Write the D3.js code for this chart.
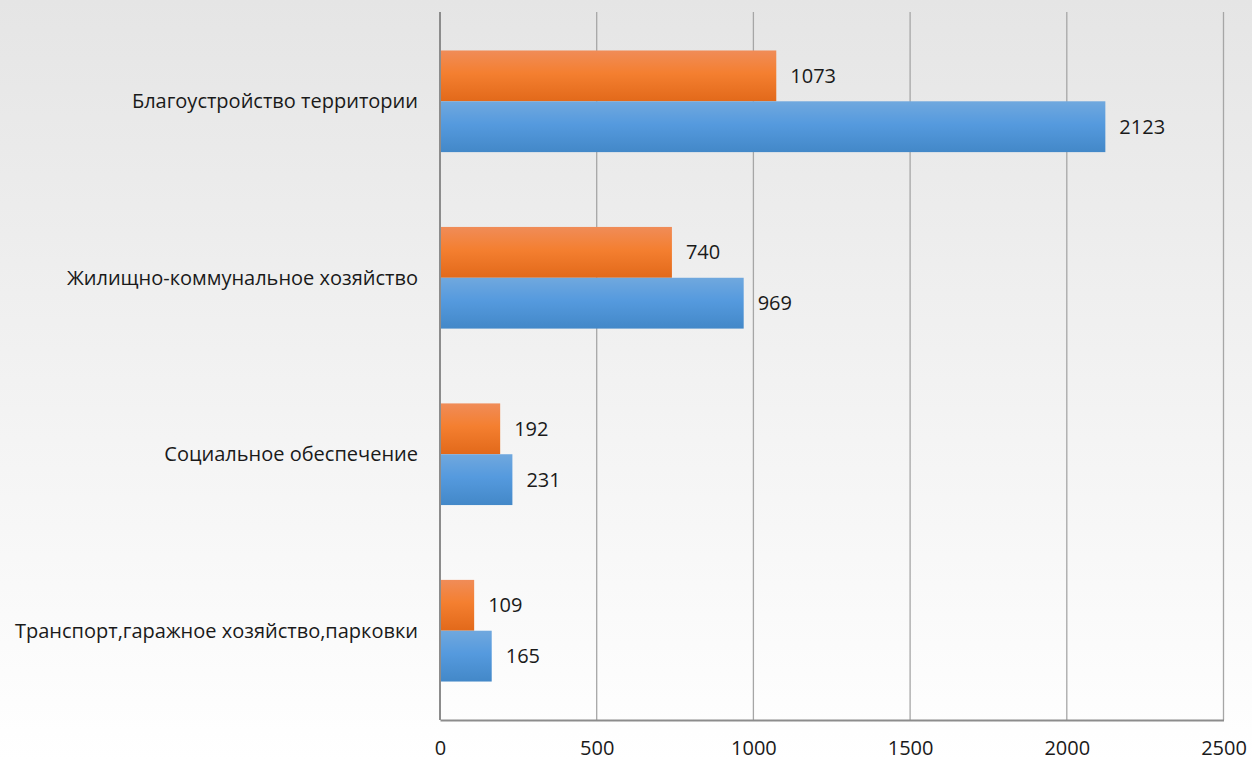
<!DOCTYPE html>
<html>
<head>
<meta charset="utf-8">
<script src="https://cdn.jsdelivr.net/npm/d3@7"></script>
<style>
  body { margin: 0; }
  svg { display: block; font-family: "Open Sans", "Noto Sans", sans-serif; }
</style>
</head>
<body>
<div id="canvas"></div>
<script>
const categories = [
  "Благоустройство территории",
  "Жилищно-коммунальное хозяйство",
  "Социальное обеспечение",
  "Транспорт,гаражное хозяйство,парковки"
];
const orangeValues = [1073, 740, 192, 109];
const blueValues = [2123, 969, 231, 165];
const xTicks = [0, 500, 1000, 1500, 2000, 2500];

const width = 1252, height = 761;
const margin = { top: 12, left: 440, bottom: 41, right: 28 };
const iwidth = width - margin.left - margin.right;
const iheight = height - margin.top - margin.bottom;

const svg = d3.select("#canvas").append("svg")
  .attr("width", width)
  .attr("height", height);

const defs = svg.append("defs");
const bg = defs.append("linearGradient").attr("id", "bg").attr("x1", 0).attr("x2", 0).attr("y1", 0).attr("y2", 1);
bg.append("stop").attr("offset", "0%").attr("stop-color", "#e5e5e5");
bg.append("stop").attr("offset", "100%").attr("stop-color", "#ffffff");

const og = defs.append("linearGradient").attr("id", "og").attr("x1", 0).attr("x2", 0).attr("y1", 0).attr("y2", 1);
og.append("stop").attr("offset", "0%").attr("stop-color", "#f08c58");
og.append("stop").attr("offset", "45%").attr("stop-color", "#f47f30");
og.append("stop").attr("offset", "100%").attr("stop-color", "#e2691a");

const bgr = defs.append("linearGradient").attr("id", "bgr").attr("x1", 0).attr("x2", 0).attr("y1", 0).attr("y2", 1);
bgr.append("stop").attr("offset", "0%").attr("stop-color", "#70a8de");
bgr.append("stop").attr("offset", "45%").attr("stop-color", "#559ade");
bgr.append("stop").attr("offset", "100%").attr("stop-color", "#4388c8");

svg.append("rect").attr("width", width).attr("height", height).attr("fill", "url(#bg)");

const g = svg.append("g").attr("transform", `translate(${margin.left},${margin.top})`);

const x = d3.scaleLinear().domain([0, 2500]).range([0, iwidth - 0.5]);

const y = d3.scaleBand()
  .domain(categories)
  .range([0, iheight])
  .paddingInner(0.424)
  .paddingOuter(0.218);

const sub = d3.scaleBand()
  .domain(["orange", "blue"])
  .range([0, y.bandwidth()]);

// grid
g.selectAll("line.grid").data(xTicks).enter().append("line")
  .attr("class", "grid")
  .attr("x1", d => x(d)).attr("x2", d => x(d))
  .attr("y1", 0).attr("y2", iheight)
  .attr("stroke", "#a6a6a6")
  .attr("stroke-width", 1.3);

const rows = categories.map((c, i) => ({ cat: c, orange: orangeValues[i], blue: blueValues[i] }));

const groups = g.selectAll("g.row").data(rows).enter().append("g")
  .attr("class", "row")
  .attr("transform", d => `translate(0,${y(d.cat)})`);

groups.append("rect")
  .attr("x", 0)
  .attr("y", sub("orange"))
  .attr("width", d => x(d.orange))
  .attr("height", sub.bandwidth())
  .attr("fill", "url(#og)");

groups.append("rect")
  .attr("x", 0)
  .attr("y", sub("blue"))
  .attr("width", d => x(d.blue))
  .attr("height", sub.bandwidth())
  .attr("fill", "url(#bgr)");

groups.append("text")
  .attr("x", d => x(d.orange) + 14)
  .attr("y", sub("orange") + sub.bandwidth() / 2)
  .attr("dy", "0.35em")
  .attr("font-size", 20)
  .attr("fill", "#1a1a1a")
  .text(d => d.orange);

groups.append("text")
  .attr("x", d => x(d.blue) + 14)
  .attr("y", sub("blue") + sub.bandwidth() / 2)
  .attr("dy", "0.35em")
  .attr("font-size", 20)
  .attr("fill", "#1a1a1a")
  .text(d => d.blue);

// category labels
g.selectAll("text.cat").data(categories).enter().append("text")
  .attr("class", "cat")
  .attr("x", -22)
  .attr("y", d => y(d) + y.bandwidth() / 2)
  .attr("dy", "0.35em")
  .attr("text-anchor", "end")
  .attr("font-size", 20)
  .attr("fill", "#1a1a1a")
  .text(d => d);

// axes lines
g.append("line")
  .attr("x1", 0).attr("x2", 0).attr("y1", 0).attr("y2", iheight)
  .attr("stroke", "#8c8c8c").attr("stroke-width", 2);

const xAxis = g.append("g")
  .attr("transform", `translate(0,${iheight})`)
  .call(d3.axisBottom(x).tickValues(xTicks).tickFormat(d3.format("d")).tickSize(0).tickPadding(21));
xAxis.select(".domain").attr("stroke", "#8c8c8c").attr("stroke-width", 2);
xAxis.selectAll("text")
  .attr("font-size", 20)
  .attr("font-family", "\"Open Sans\", \"Noto Sans\", sans-serif")
  .attr("fill", "#1a1a1a");
</script>
</body>
</html>
